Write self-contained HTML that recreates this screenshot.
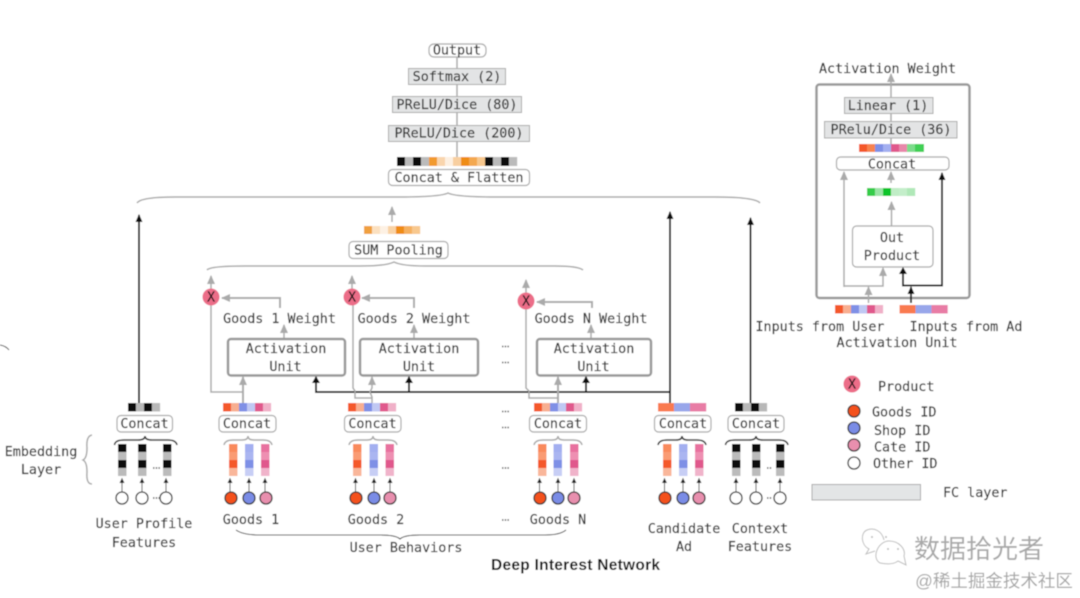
<!DOCTYPE html>
<html><head><meta charset="utf-8"><style>
html,body{margin:0;padding:0;background:#fff;width:1080px;height:598px;overflow:hidden}
svg{display:block}
text{font-family:"DejaVu Sans Mono","Liberation Mono",monospace;font-size:13.4px;fill:#333;stroke:#333;stroke-width:.2px;text-anchor:middle}
.st{text-anchor:start}
.bx{fill:#fff;stroke:#aaa;stroke-width:1.2}
.fc{fill:#e3e4e5;stroke:#aaa;stroke-width:1}
.g{fill:none;stroke:#aaa;stroke-width:1.5}
.g2{fill:none;stroke:#aaa;stroke-width:2}
.k{fill:none;stroke:#222;stroke-width:2}
.ks{fill:none;stroke:#444;stroke-width:1}
.bk{fill:none;stroke:#333;stroke-width:1.6}
.au{fill:#fff;stroke:#999;stroke-width:2.5}
.c{stroke:#333;stroke-width:1.3}
.dots{stroke:#555;stroke-width:1.5;stroke-dasharray:1.5 1.2;fill:none}
.x{font-size:13px;fill:#111;stroke:#111}
</style></head><body>
<svg width="1080" height="598" viewBox="0 0 1080 598" xmlns="http://www.w3.org/2000/svg">
<defs>
<filter id="b" x="-2%" y="-2%" width="104%" height="104%"><feGaussianBlur stdDeviation="0.4"/></filter>
<marker id="ag" markerUnits="userSpaceOnUse" markerWidth="10" markerHeight="10" refX="8" refY="4" orient="auto"><path d="M0,0L9,4L0,8Z" fill="#aaa"/></marker>
<marker id="ak" markerUnits="userSpaceOnUse" markerWidth="10" markerHeight="10" refX="7" refY="4" orient="auto"><path d="M0,0.5L8,4L0,7.5Z" fill="#111"/></marker>
<marker id="as" markerUnits="userSpaceOnUse" markerWidth="6" markerHeight="6" refX="5" refY="2.5" orient="auto"><path d="M0,0L5,2.5L0,5Z" fill="#222"/></marker>
<g id="gb"><rect width="8.1" height="8.5" x="0" fill="#f4592a"/><rect width="8.1" height="8.5" x="8" fill="#f8ae90"/><rect width="8.1" height="8.5" x="16" fill="#7f90e6"/><rect width="8.1" height="8.5" x="24" fill="#c0c8f3"/><rect width="8.1" height="8.5" x="32" fill="#e0588c"/><rect width="8.1" height="8.5" x="40" fill="#f0b0c8"/></g>
<g id="cb"><rect width="16.2" height="8.5" x="0" fill="#f97a50"/><rect width="16.2" height="8.5" x="16" fill="#98a6ea"/><rect width="16.2" height="8.5" x="32" fill="#e87ba5"/></g>
<g id="kb"><rect width="8.1" height="8.5" x="0" fill="#0a0a0a"/><rect width="8.1" height="8.5" x="8" fill="#b8b8b8"/><rect width="8.1" height="8.5" x="16" fill="#0a0a0a"/><rect width="8.1" height="8.5" x="24" fill="#b8b8b8"/></g>
<g id="so"><rect width="8.5" height="8.1" y="0" fill="#f98a5c"/><rect width="8.5" height="8.1" y="8" fill="#fa9b73"/><rect width="8.5" height="8.1" y="16" fill="#f4592a"/><rect width="8.5" height="8" y="24" fill="#f9b69a"/></g>
<g id="sb"><rect width="8.5" height="8.1" y="0" fill="#a3aff0"/><rect width="8.5" height="8.1" y="8" fill="#aab5f1"/><rect width="8.5" height="8.1" y="16" fill="#7e90e6"/><rect width="8.5" height="8" y="24" fill="#c7cef5"/></g>
<g id="sp"><rect width="8.5" height="8.1" y="0" fill="#e8719f"/><rect width="8.5" height="8.1" y="8" fill="#ee8fb2"/><rect width="8.5" height="8.1" y="16" fill="#e0588c"/><rect width="8.5" height="8" y="24" fill="#f0b3ca"/></g>
<g id="sk"><rect width="8.5" height="8.1" y="0" fill="#0a0a0a"/><rect width="8.5" height="8.1" y="8" fill="#bbb"/><rect width="8.5" height="8.1" y="16" fill="#0a0a0a"/><rect width="8.5" height="8" y="24" fill="#bbb"/></g>
<g id="bg"><path class="g" d="M0,9 Q1,4 9,4 H18 Q24,4 24,0 Q24,4 30,4 H39 Q47,4 48,9"/></g>
<g id="bd"><path class="bk" d="M0,9 Q1,4 9,4 H18 Q24,4 24,0 Q24,4 30,4 H39 Q47,4 48,9"/></g>
</defs>
<g filter="url(#b)">
<rect width="1080" height="598" fill="#fff"/>
<path d="M0,345 Q6,346 9,350" fill="none" stroke="#555" stroke-width="1"/>

<!-- top stack -->
<path class="g" d="M457,57V157" stroke-width="1.2"/>
<rect class="bx" x="429" y="44" width="57" height="13" rx="5"/>
<text x="457" y="54.5">Output</text>
<rect class="fc" x="408.5" y="68.5" width="97" height="16"/>
<text x="457" y="81">Softmax (2)</text>
<rect class="fc" x="392.5" y="96.5" width="129" height="16"/>
<text x="457" y="109">PReLU/Dice (80)</text>
<rect class="fc" x="388.5" y="125.5" width="141" height="16"/>
<text x="459" y="137.5">PReLU/Dice (200)</text>
<g>
<rect x="397" y="157" width="8.2" height="9" fill="#0a0a0a"/><rect x="405" y="157" width="8.2" height="9" fill="#bbb"/><rect x="413" y="157" width="8.2" height="9" fill="#0a0a0a"/><rect x="421" y="157" width="8.2" height="9" fill="#bbb"/><rect x="429" y="157" width="8.2" height="9" fill="#f29a2e"/><rect x="437" y="157" width="8.2" height="9" fill="#f9d5ad"/><rect x="445" y="157" width="8.2" height="9" fill="#fdf0e2"/><rect x="453" y="157" width="8.2" height="9" fill="#f8cfa0"/><rect x="461" y="157" width="8.2" height="9" fill="#ef8c16"/><rect x="469" y="157" width="8.2" height="9" fill="#f4a850"/><rect x="477" y="157" width="8.2" height="9" fill="#f8c88e"/><rect x="485" y="157" width="8.2" height="9" fill="#0a0a0a"/><rect x="493" y="157" width="8.2" height="9" fill="#bbb"/><rect x="501" y="157" width="8.2" height="9" fill="#0a0a0a"/><rect x="509" y="157" width="8.2" height="9" fill="#bbb"/>
</g>
<rect class="bx" x="388.5" y="169.5" width="141" height="16" rx="4"/>
<text x="459" y="182">Concat &amp; Flatten</text>
<path class="g" d="M137,203 Q141,197 175,197 H400 Q440,197 448,193 Q456,197 495,197 H715 Q755,197 760,203"/>

<!-- long black arrows -->
<path class="k" d="M139,403V215" marker-end="url(#ak)"/>
<path class="k" d="M670,403V212" marker-end="url(#ak)"/>
<path class="k" d="M750.5,403V218" marker-end="url(#ak)"/>
<path class="k" d="M316,376V392H670"/>
<path d="M316,376l-4,7h8z" fill="#111"/>
<path class="k" d="M409,392V376"/><path d="M409,376l-4,7h8z" fill="#111"/>
<path class="k" d="M586,392V376"/><path d="M586,376l-4,7h8z" fill="#111"/>

<!-- sum pooling -->
<path class="g" d="M392,222V207" marker-end="url(#ag)"/>
<g>
<rect x="364" y="226" width="8.2" height="8" fill="#f0a040"/><rect x="372" y="226" width="8.2" height="8" fill="#fbe0c0"/><rect x="380" y="226" width="8.2" height="8" fill="#fdf1e4"/><rect x="388" y="226" width="8.2" height="8" fill="#f9d3a6"/><rect x="396" y="226" width="8.2" height="8" fill="#ef8c16"/><rect x="404" y="226" width="8.2" height="8" fill="#f5b060"/><rect x="412" y="226" width="8.2" height="8" fill="#f8c88e"/>
</g>
<rect class="bx" x="349" y="241.5" width="99" height="17" rx="4"/>
<text x="398.5" y="254.5">SUM Pooling</text>
<path class="g" d="M207,270 Q210,266 245,266 H360 Q386,266 394,262 Q402,266 425,266 H555 Q578,266 583,270"/>

<!-- product row 1 -->
<path class="g" d="M211,289V276" marker-end="url(#ag)"/>
<path class="g2" d="M280,308V298H222" marker-end="url(#ag)"/>
<path class="g" d="M284,338V325" marker-end="url(#ag)"/>
<path class="g" d="M211,305V392H243"/>
<path class="g2" d="M243,403V377" marker-end="url(#ag)"/>
<circle cx="211" cy="297" r="8.5" fill="#ec6d88"/><text class="x" x="211" y="301.5">X</text>
<rect class="au" x="228" y="339" width="117" height="36.5" rx="3"/>
<text x="286" y="353">Activation</text><text x="285.5" y="371">Unit</text>
<text x="279.5" y="323">Goods 1 Weight</text>

<!-- product row 2 -->
<path class="g" d="M352,289V276" marker-end="url(#ag)"/>
<path class="g2" d="M414,308V298H362" marker-end="url(#ag)"/>
<path class="g" d="M414,338V325" marker-end="url(#ag)"/>
<path class="g" d="M353,305V388L355,391V398H372"/>
<path class="g" d="M372,403V397L370,392L372,388V377" marker-end="url(#ag)"/>
<circle cx="352" cy="297" r="8.5" fill="#ec6d88"/><text class="x" x="352" y="301.5">X</text>
<rect class="au" x="360" y="339" width="118" height="36.5" rx="3"/>
<text x="419" y="353">Activation</text><text x="419" y="371">Unit</text>
<text x="414" y="323">Goods 2 Weight</text>

<!-- product row 3 -->
<path class="g" d="M526,293V280" marker-end="url(#ag)"/>
<path class="g2" d="M592,308V302H537" marker-end="url(#ag)"/>
<path class="g" d="M591,338V325" marker-end="url(#ag)"/>
<path class="g" d="M526,309V388L529,391V398H558"/>
<path class="g2" d="M558,403V377" marker-end="url(#ag)"/>
<circle cx="526" cy="301" r="8.5" fill="#ec6d88"/><text class="x" x="526" y="305.5">X</text>
<rect class="au" x="537" y="339" width="114" height="36.5" rx="3"/>
<text x="594" y="353">Activation</text><text x="593.5" y="371">Unit</text>
<text x="591" y="323">Goods N Weight</text>

<!-- dots -->
<path class="dots" d="M502,346.5H509M502,362.5H509M502,411.5H509M502,427.5H509M502,468H509M502,520H509"/>
<path class="dots" d="M153,468H160M153,498H160M767,468H772M767,498H772"/>

<!-- col 1 user profile -->
<use href="#kb" x="128" y="403"/>
<rect class="bx" x="117" y="415.5" width="55.5" height="16.5" rx="4"/><text x="144.5" y="428">Concat</text>
<path class="bk" d="M114.5,445 Q115,440 124,440 H138 Q145,440 145,436 Q145,440 152,440 H168 Q176,440 177,445"/>
<use href="#sk" x="118" y="444"/><use href="#sk" x="138" y="444"/><use href="#sk" x="163" y="444"/>
<path class="ks" d="M122,492V478" marker-end="url(#as)"/><path class="ks" d="M142,492V478" marker-end="url(#as)"/><path class="ks" d="M166,492V478" marker-end="url(#as)"/>
<circle cx="122" cy="498" r="6" fill="#fff" class="c"/><circle cx="142" cy="498" r="6" fill="#fff" class="c"/><circle cx="166" cy="498" r="6" fill="#fff" class="c"/>
<text x="144" y="528">User Profile</text><text x="144" y="547">Features</text>
<text x="41" y="456">Embedding</text><text x="41" y="474">Layer</text>
<path class="g" d="M92,435 Q86,436 87,448 Q87,458 83,460 Q87,462 87,472 Q86,484 92,484" stroke-width="1.2"/>

<!-- col 2 goods 1 -->
<use href="#gb" x="223" y="403"/>
<rect class="bx" x="219" y="415.5" width="57" height="16.5" rx="4"/><text x="247" y="428">Concat</text>
<use href="#bg" x="224" y="436"/>
<use href="#so" x="229" y="444"/><use href="#sb" x="245" y="444"/><use href="#sp" x="261" y="444"/>
<path class="ks" d="M230,492V478" marker-end="url(#as)"/><path class="ks" d="M249,492V478" marker-end="url(#as)"/><path class="ks" d="M265,492V478" marker-end="url(#as)"/>
<circle cx="231" cy="498" r="6" fill="#f4511e" class="c"/><circle cx="249" cy="498" r="6" fill="#7a8ce6" class="c"/><circle cx="266" cy="498" r="6" fill="#e88fae" class="c"/>
<text x="251" y="524">Goods 1</text>

<!-- col 3 goods 2 -->
<use href="#gb" x="348" y="403"/>
<rect class="bx" x="344.5" y="415.5" width="56.5" height="16.5" rx="4"/><text x="372.5" y="428">Concat</text>
<use href="#bg" x="349" y="436"/>
<use href="#so" x="353" y="444"/><use href="#sb" x="369.5" y="444"/><use href="#sp" x="385.5" y="444"/>
<path class="ks" d="M355.5,492V478" marker-end="url(#as)"/><path class="ks" d="M374,492V478" marker-end="url(#as)"/><path class="ks" d="M390,492V478" marker-end="url(#as)"/>
<circle cx="356" cy="498" r="6" fill="#f4511e" class="c"/><circle cx="374" cy="498" r="6" fill="#7a8ce6" class="c"/><circle cx="390" cy="498" r="6" fill="#e88fae" class="c"/>
<text x="376" y="524">Goods 2</text>

<!-- col 4 goods N -->
<use href="#gb" x="534" y="403"/>
<rect class="bx" x="529.5" y="415.5" width="57" height="16.5" rx="4"/><text x="558" y="428">Concat</text>
<use href="#bg" x="534" y="436"/>
<use href="#so" x="538" y="444"/><use href="#sb" x="553.5" y="444"/><use href="#sp" x="570" y="444"/>
<path class="ks" d="M539.5,492V478" marker-end="url(#as)"/><path class="ks" d="M558,492V478" marker-end="url(#as)"/><path class="ks" d="M574,492V478" marker-end="url(#as)"/>
<circle cx="540" cy="498" r="6" fill="#f4511e" class="c"/><circle cx="558" cy="498" r="6" fill="#7a8ce6" class="c"/><circle cx="574" cy="498" r="6" fill="#e88fae" class="c"/>
<text x="558" y="524">Goods N</text>

<path class="ks" d="M236,530 Q243,535 260,535 H380 Q396,535 400,539 Q404,535 420,535 H545 Q560,535 566,530"/>
<text x="406" y="552">User Behaviors</text>
<text x="575.5" y="570" textLength="169" lengthAdjust="spacing" style="font-family:'Liberation Sans',sans-serif;font-weight:bold;font-size:15.5px;fill:#111;stroke:none">Deep Interest Network</text>

<!-- col 5 candidate -->
<use href="#cb" x="658" y="403"/>
<rect class="bx" x="654.5" y="415.5" width="56.5" height="16.5" rx="4"/><text x="683" y="428">Concat</text>
<use href="#bd" x="658" y="436"/>
<use href="#so" x="663" y="444"/><use href="#sb" x="679" y="444"/><use href="#sp" x="695" y="444"/>
<path class="ks" d="M664.5,492V478" marker-end="url(#as)"/><path class="ks" d="M683,492V478" marker-end="url(#as)"/><path class="ks" d="M699,492V478" marker-end="url(#as)"/>
<circle cx="665" cy="498" r="6" fill="#f4511e" class="c"/><circle cx="683" cy="498" r="6" fill="#7a8ce6" class="c"/><circle cx="699" cy="498" r="6" fill="#e88fae" class="c"/>
<text x="684" y="533">Candidate</text><text x="684" y="551">Ad</text>

<!-- col 6 context -->
<use href="#kb" x="735" y="403"/>
<rect class="bx" x="728" y="415.5" width="56" height="16.5" rx="4"/><text x="756" y="428">Concat</text>
<path class="bk" d="M725.5,445 Q726,440 735,440 H749 Q756,440 756,436 Q756,440 763,440 H779 Q787,440 788,445"/>
<use href="#sk" x="732" y="444"/><use href="#sk" x="752" y="444"/><use href="#sk" x="776" y="444"/>
<path class="ks" d="M736,492V478" marker-end="url(#as)"/><path class="ks" d="M756,492V478" marker-end="url(#as)"/><path class="ks" d="M780,492V478" marker-end="url(#as)"/>
<circle cx="736" cy="498" r="6" fill="#fff" class="c"/><circle cx="756" cy="498" r="6" fill="#fff" class="c"/><circle cx="780" cy="498" r="6" fill="#fff" class="c"/>
<text x="760" y="533">Context</text><text x="760" y="551">Features</text>

<!-- right panel -->
<text x="887.5" y="73">Activation Weight</text>
<rect x="816.5" y="84.5" width="153" height="213.5" rx="3" fill="none" stroke="#9a9a9a" stroke-width="2.5"/>
<path class="g" d="M891,144V74" marker-end="url(#ag)"/>
<rect class="fc" x="844.5" y="97.5" width="88.5" height="16"/><text x="888" y="110">Linear (1)</text>
<rect class="fc" x="824.5" y="121.5" width="132.5" height="16.5"/><text x="891" y="134">PRelu/Dice (36)</text>
<rect x="859" y="144" width="16.5" height="8" fill="#f4592a"/><rect x="867" y="144" width="8.5" height="8" fill="#f7834f"/><rect x="875" y="144" width="16.5" height="8" fill="#7f90e6"/><rect x="883" y="144" width="8.5" height="8" fill="#a3aff0"/><rect x="891" y="144" width="16.5" height="8" fill="#e0588c"/><rect x="899" y="144" width="8.5" height="8" fill="#e887aa"/><rect x="907" y="144" width="8.5" height="8" fill="#7bdc8b"/><rect x="915" y="144" width="9" height="8" fill="#3fd055"/>
<rect class="bx" x="836.5" y="157" width="112.5" height="13" rx="4"/><text x="892" y="168.5">Concat</text>
<path class="g" d="M844,287V172" marker-end="url(#ag)"/>
<path class="g" d="M891,183V172" marker-end="url(#ag)"/>
<rect x="867" y="188" width="8.2" height="8" fill="#35cc4a"/><rect x="875" y="188" width="8.2" height="8" fill="#9be4a6"/><rect x="883" y="188" width="8.2" height="8" fill="#11c42a"/><rect x="891" y="188" width="8.2" height="8" fill="#c0edc6"/><rect x="899" y="188" width="8.2" height="8" fill="#c4eeca"/><rect x="907" y="188" width="8.2" height="8" fill="#b0e8b8"/>
<path class="g" d="M891.5,226V202" marker-end="url(#ag)"/>
<rect class="bx" x="852.5" y="226" width="80.5" height="41" rx="4"/><text x="892" y="242">Out</text><text x="892" y="260">Product</text>
<path class="g" d="M844,286H883V268" marker-end="url(#ag)"/>
<path class="k" d="M903,268V285.5H942V173" marker-end="url(#ak)" stroke-width="1.6"/>
<path d="M903,267l-4,7h8z" fill="#111"/>
<path class="g" d="M868.5,303V287" marker-end="url(#ag)"/>
<path class="k" d="M911,303V287" marker-end="url(#ak)"/>
<use href="#gb" x="835" y="305"/>
<use href="#cb" x="899.5" y="305"/>
<text x="820" y="331">Inputs from User</text><text x="966" y="331">Inputs from Ad</text><text x="897" y="347">Activation Unit</text>

<!-- legend -->
<circle cx="852" cy="384" r="8.5" fill="#ec6d88"/><text class="x" x="852" y="388.5">X</text>
<text class="st" x="878" y="391">Product</text>
<circle cx="854" cy="411" r="6" fill="#f4511e" class="c"/><text class="st" x="872" y="416.5">Goods ID</text>
<circle cx="854" cy="428" r="6" fill="#7a8ce6" class="c"/><text class="st" x="874" y="435">Shop ID</text>
<circle cx="854" cy="445" r="6" fill="#e88fae" class="c"/><text class="st" x="874" y="451.5">Cate ID</text>
<circle cx="854" cy="463" r="6" fill="#fff" class="c"/><text class="st" x="873" y="468">Other ID</text>
<rect x="812" y="484.5" width="108.5" height="15.5" fill="#e3e5e6" stroke="#aaa" stroke-width="1"/>
<text class="st" x="943" y="497">FC layer</text>

<!-- watermark -->
<path d="M884,540 C882,531 874,527 867,530 C860,533 861,545 869,549 L866,554 L875,551" fill="none" stroke="#bdbdbd" stroke-width="1"/>
<path d="M880,563 C871,558 878,541 889,541 C899,541 906,549 904,556 L906,565 L898,561 C893,565 885,564 880,563Z" fill="#fff" stroke="#bdbdbd" stroke-width="1"/>
<circle cx="872" cy="537" r="1" fill="#bbb"/><circle cx="886" cy="537" r="1" fill="#bbb"/><circle cx="888" cy="549" r="1" fill="#bbb"/><circle cx="898" cy="549" r="1" fill="#bbb"/>
<text x="979" y="558" style="font-family:'Noto Sans CJK SC',sans-serif;font-size:26px;fill:#a8a8a8;stroke:none">数据拾光者</text>
<text x="994" y="587" style="font-family:'Liberation Sans','Noto Sans CJK SC',sans-serif;font-size:17.5px;fill:#a6a6a6;stroke:none">@稀土掘金技术社区</text>
</g>
</svg>
</body></html>
